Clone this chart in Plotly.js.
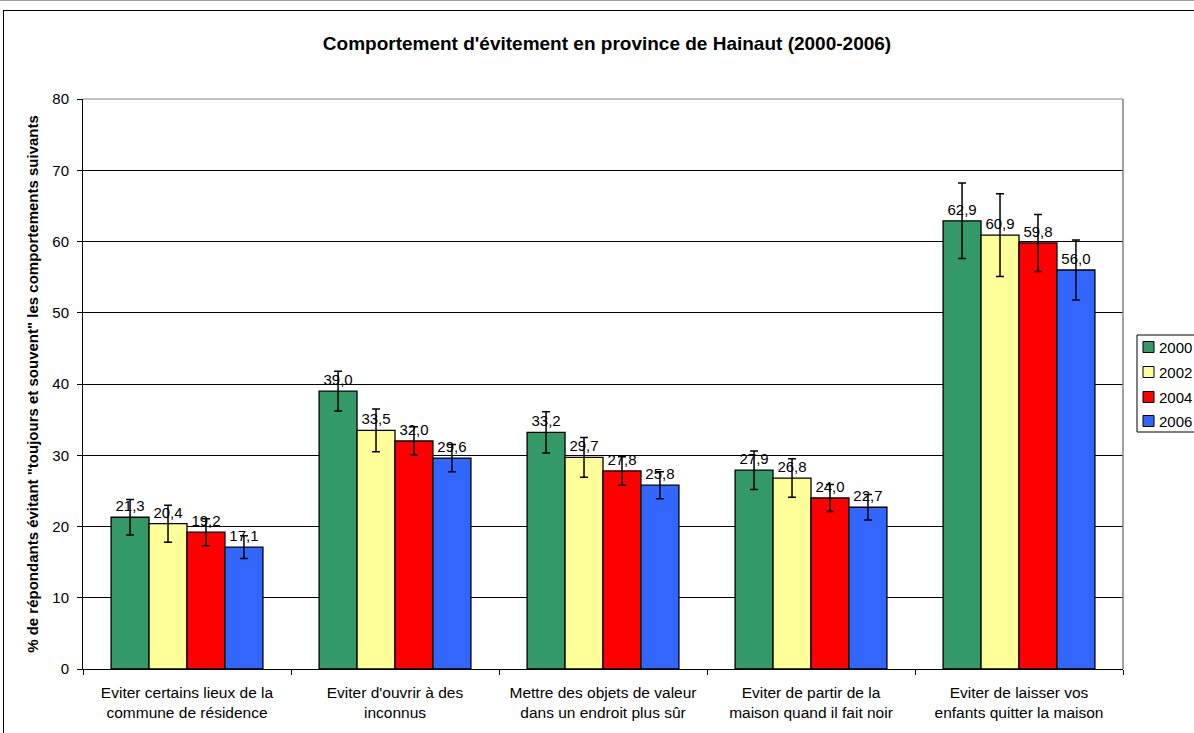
<!DOCTYPE html>
<html><head><meta charset="utf-8">
<script src="https://cdn.plot.ly/plotly-3.0.1.min.js"></script>
<style>
html,body{margin:0;padding:0;overflow:hidden;background:#fff;}
#wrap{position:relative;width:1194px;height:733px;overflow:hidden;}
#chart{position:absolute;left:0;top:0;width:1194px;height:733px;}
#frame{position:absolute;left:3px;top:10px;width:1300px;height:800px;border:1px solid #000;pointer-events:none;}
#topline{position:absolute;left:0;top:0;width:1194px;height:1px;background:#a0a0a0;}
</style></head>
<body>
<div id="wrap"><div id="chart"></div><div id="frame"></div><div id="topline"></div></div>
<script>
const categories = [
  "Eviter certains lieux de la<br>commune de résidence",
  "Eviter d'ouvrir à des<br>inconnus",
  "Mettre des objets de valeur<br>dans un endroit plus sûr",
  "Eviter de partir de la<br>maison quand il fait noir",
  "Eviter de laisser vos<br>enfants quitter la maison"
];
const years = ["2000", "2002", "2004", "2006"];
const v2000 = [21.3, 39.0, 33.2, 27.9, 62.9];
const v2002 = [20.4, 33.5, 29.7, 26.8, 60.9];
const v2004 = [19.2, 32.0, 27.8, 24.0, 59.8];
const v2006 = [17.1, 29.6, 25.8, 22.7, 56.0];
const e2000 = [2.5, 2.8, 2.9, 2.7, 5.3];
const e2002 = [2.6, 3.0, 2.8, 2.7, 5.8];
const e2004 = [1.9, 2.0, 2.0, 1.9, 4.0];
const e2006 = [1.6, 1.9, 1.9, 1.8, 4.2];
const yTicks = [0, 10, 20, 30, 40, 50, 60, 70, 80];

const colors = ["#339966", "#FFFF99", "#FF0000", "#3366FF"];
const series = [v2000, v2002, v2004, v2006];
const errs = [e2000, e2002, e2004, e2006];
const fmt = v => v.toFixed(1).replace(".", ",");

const W = 1194, H = 733;
const M = {l: 83, r: 71, t: 99, b: 64};
const pw = W - M.l - M.r, ph = H - M.t - M.b;
const px = x => (x - M.l) / pw;       // pixel -> paper x
const py = y => (H - M.b - y) / ph;   // pixel -> paper y

const traces = series.map((vals, i) => ({
  type: "bar",
  name: years[i],
  x: categories,
  y: vals,
  text: vals.map(fmt),
  textposition: "outside",
  constraintext: "none",
  cliponaxis: false,
  textfont: {family: "Liberation Sans, Arial, sans-serif", size: 15, color: "#000"},
  marker: {color: colors[i], line: {color: "#000", width: 1.3}},
  error_y: {type: "data", array: errs[i], visible: true, color: "#000", thickness: 1.5, width: 4},
  showlegend: false,
  hoverinfo: "y+name"
}));

// legend box (drawn beside the plot, partly cut by the right edge as in the reference)
const legTop = 335, legBottom = 432, legLeft = 1137;
const rowY = [347, 372, 397, 421];
const shapes = [
  {type: "line", xref: "paper", yref: "paper", x0: 1, x1: 1, y0: 0, y1: 1, line: {color: "#808080", width: 1.5}},
  {type: "line", xref: "paper", yref: "paper", x0: 0, x1: 1, y0: 1, y1: 1, line: {color: "#808080", width: 1}},
  {type: "rect", xref: "paper", yref: "paper", x0: px(legLeft), x1: px(W + 5), y0: py(legBottom), y1: py(legTop),
   line: {color: "#000", width: 1}, fillcolor: "#fff", layer: "above"}
];
const annotations = [];
years.forEach((yr, i) => {
  shapes.push({type: "rect", xref: "paper", yref: "paper",
    x0: px(1143), x1: px(1154), y0: py(rowY[i] + 5.5), y1: py(rowY[i] - 5.5),
    line: {color: "#000", width: 1}, fillcolor: colors[i], layer: "above"});
  annotations.push({xref: "paper", yref: "paper", x: px(1157), y: py(rowY[i]),
    xanchor: "left", yanchor: "middle", text: yr, showarrow: false,
    font: {size: 15, color: "#000"}});
});

const layout = {
  width: W, height: H,
  margin: M,
  paper_bgcolor: "rgba(0,0,0,0)",
  plot_bgcolor: "#fff",
  font: {family: "Liberation Sans, Arial, sans-serif", size: 15, color: "#000"},
  title: {
    text: "<b>Comportement d'évitement en province de Hainaut (2000-2006)</b>",
    font: {size: 19, color: "#000"},
    x: 607 / W, xanchor: "center",
    y: 1 - 43 / H, yref: "container", yanchor: "middle"
  },
  barmode: "group",
  bargap: 0.27,
  bargroupgap: 0,
  showlegend: false,
  xaxis: {
    tickson: "boundaries",
    ticks: "outside", ticklen: 5, tickcolor: "#000",
    ticklabelstandoff: 9,
    showline: true, linecolor: "#000", linewidth: 1,
    showgrid: false,
    tickfont: {size: 15.5},
    automargin: false
  },
  yaxis: {
    range: [0, 80],
    tickvals: yTicks,
    ticks: "outside", ticklen: 5, tickcolor: "#000",
    ticklabelstandoff: 5,
    showline: true, linecolor: "#000", linewidth: 1,
    showgrid: true, gridcolor: "#000", gridwidth: 1,
    zeroline: false,
    tickfont: {size: 15},
    title: {
      text: "<b>% de répondants évitant \"toujours et souvent\" les comportements suivants</b>",
      font: {size: 15}, standoff: 10
    },
    automargin: false
  },
  shapes: shapes,
  annotations: annotations
};

Plotly.newPlot("chart", traces, layout, {displayModeBar: false, staticPlot: true});
</script>
</body></html>
